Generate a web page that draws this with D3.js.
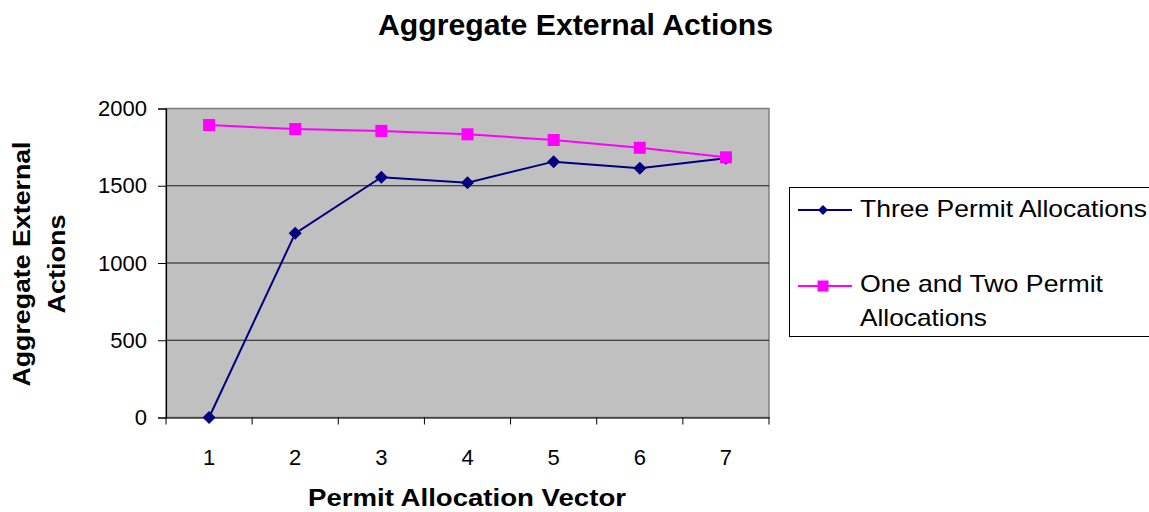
<!DOCTYPE html>
<html><head><meta charset="utf-8">
<script src="https://cdn.jsdelivr.net/npm/d3@7"></script>
<style>body{margin:0;background:#fff;overflow:hidden}svg{display:block;font-family:"Liberation Sans",Arial,sans-serif}</style>
</head><body>
<script>
const categories = [1, 2, 3, 4, 5, 6, 7];
const threePermit = [0, 1192, 1555, 1520, 1656, 1613, 1678];
const oneTwoPermit = [1893, 1867, 1855, 1833, 1796, 1746, 1684];
const yTicks = [0, 500, 1000, 1500, 2000];
const seriesNames = ["Three Permit Allocations", "One and Two Permit", "Allocations"];

const W = 1149, H = 512;
const FONT = "Liberation Sans, Arial, sans-serif";
const svg = d3.select("body").append("svg").attr("width", W).attr("height", H);
const L = 166, R = 769, T = 108.5, B = 417.5;

const x = d3.scaleBand().domain(categories).range([L, R]);
const y = d3.scaleLinear().domain([0, 2000]).range([B, T]);

svg.append("rect").attr("x", L).attr("y", T).attr("width", R - L).attr("height", B - T)
  .attr("fill", "#c0c0c0").attr("stroke", "#808080").attr("stroke-width", 1.5);

// gridlines
svg.append("g").selectAll("line").data(yTicks.filter(d => d > 0 && d < 2000)).join("line")
  .attr("x1", L).attr("x2", R).attr("y1", d => y(d)).attr("y2", d => y(d))
  .attr("stroke", "#1a1a1a").attr("stroke-width", 1.2);

// y axis
const ya = svg.append("g").attr("transform", `translate(${L},0)`)
  .call(d3.axisLeft(y).tickValues(yTicks).tickFormat(d3.format("d")).tickSize(8).tickPadding(11));
ya.select(".domain").attr("stroke", "#000").attr("stroke-width", 1.2);
ya.selectAll("line").attr("stroke", "#000");
ya.selectAll("text").attr("font-size", 22).attr("fill", "#000").attr("font-family", FONT);

// x axis
const xa = svg.append("g").attr("transform", `translate(0,${B})`)
  .call(d3.axisBottom(x).tickSize(0).tickPadding(32));
xa.select(".domain").attr("stroke", "#000").attr("stroke-width", 1.2);
xa.selectAll("text").attr("font-size", 22).attr("fill", "#000").attr("font-family", FONT);
const bounds = categories.map(c => x(c)).concat([R]);
svg.append("g").selectAll("line").data(bounds).join("line")
  .attr("x1", d => d).attr("x2", d => d).attr("y1", B).attr("y2", B + 7)
  .attr("stroke", "#000");

const cx = d => x(d) + x.bandwidth() / 2;
const line = d3.line().x((d, i) => cx(categories[i])).y(d => y(d));

const navy = "#000080", mag = "#ff00ff";
const diamondPath = h => `M0,${-h}L${h},0L0,${h}L${-h},0Z`;

svg.append("path").datum(threePermit).attr("d", line).attr("fill", "none").attr("stroke", navy).attr("stroke-width", 2);
svg.append("path").datum(oneTwoPermit).attr("d", line).attr("fill", "none").attr("stroke", mag).attr("stroke-width", 2);

svg.append("g").selectAll("path").data(threePermit).join("path")
  .attr("transform", (d, i) => `translate(${cx(categories[i])},${y(d)})`)
  .attr("d", diamondPath(6.5)).attr("fill", navy);
svg.append("g").selectAll("rect").data(oneTwoPermit).join("rect")
  .attr("x", (d, i) => cx(categories[i]) - 6).attr("y", d => y(d) - 6)
  .attr("width", 12).attr("height", 12).attr("fill", mag);

// title
svg.append("text").attr("x", 575.5).attr("y", 35).attr("text-anchor", "middle")
  .attr("font-size", 29).attr("font-weight", "bold")
  .attr("textLength", 395).attr("lengthAdjust", "spacingAndGlyphs")
  .text("Aggregate External Actions");
svg.append("text").attr("x", 467).attr("y", 506).attr("text-anchor", "middle")
  .attr("font-size", 23).attr("font-weight", "bold")
  .attr("textLength", 318).attr("lengthAdjust", "spacingAndGlyphs")
  .text("Permit Allocation Vector");
const yt = svg.append("g").attr("transform", `translate(30,264) rotate(-90)`);
yt.append("text").attr("x", 0).attr("y", 0).attr("text-anchor", "middle")
  .attr("font-size", 24).attr("font-weight", "bold")
  .attr("textLength", 245).attr("lengthAdjust", "spacingAndGlyphs")
  .text("Aggregate External");
yt.append("text").attr("x", 0).attr("y", 35).attr("text-anchor", "middle")
  .attr("font-size", 24).attr("font-weight", "bold")
  .attr("textLength", 99).attr("lengthAdjust", "spacingAndGlyphs")
  .text("Actions");

// legend
const lg = svg.append("g");
lg.append("rect").attr("x", 789.5).attr("y", 187.5).attr("width", 400).attr("height", 149)
  .attr("fill", "#fff").attr("stroke", "#000").attr("stroke-width", 1);
lg.append("line").attr("x1", 798).attr("x2", 852).attr("y1", 210).attr("y2", 210).attr("stroke", navy).attr("stroke-width", 2);
lg.append("path").attr("transform", "translate(823,210)").attr("d", diamondPath(5)).attr("fill", navy);
lg.append("text").attr("x", 860).attr("y", 217).attr("font-size", 24)
  .attr("textLength", 287).attr("lengthAdjust", "spacingAndGlyphs").text(seriesNames[0]);
lg.append("line").attr("x1", 798).attr("x2", 852).attr("y1", 286).attr("y2", 286).attr("stroke", mag).attr("stroke-width", 2);
lg.append("rect").attr("x", 817.5).attr("y", 280.5).attr("width", 11).attr("height", 11).attr("fill", mag);
lg.append("text").attr("x", 860).attr("y", 292).attr("font-size", 24)
  .attr("textLength", 243).attr("lengthAdjust", "spacingAndGlyphs").text(seriesNames[1]);
lg.append("text").attr("x", 860).attr("y", 326).attr("font-size", 24)
  .attr("textLength", 127).attr("lengthAdjust", "spacingAndGlyphs").text(seriesNames[2]);
</script>
</body></html>
